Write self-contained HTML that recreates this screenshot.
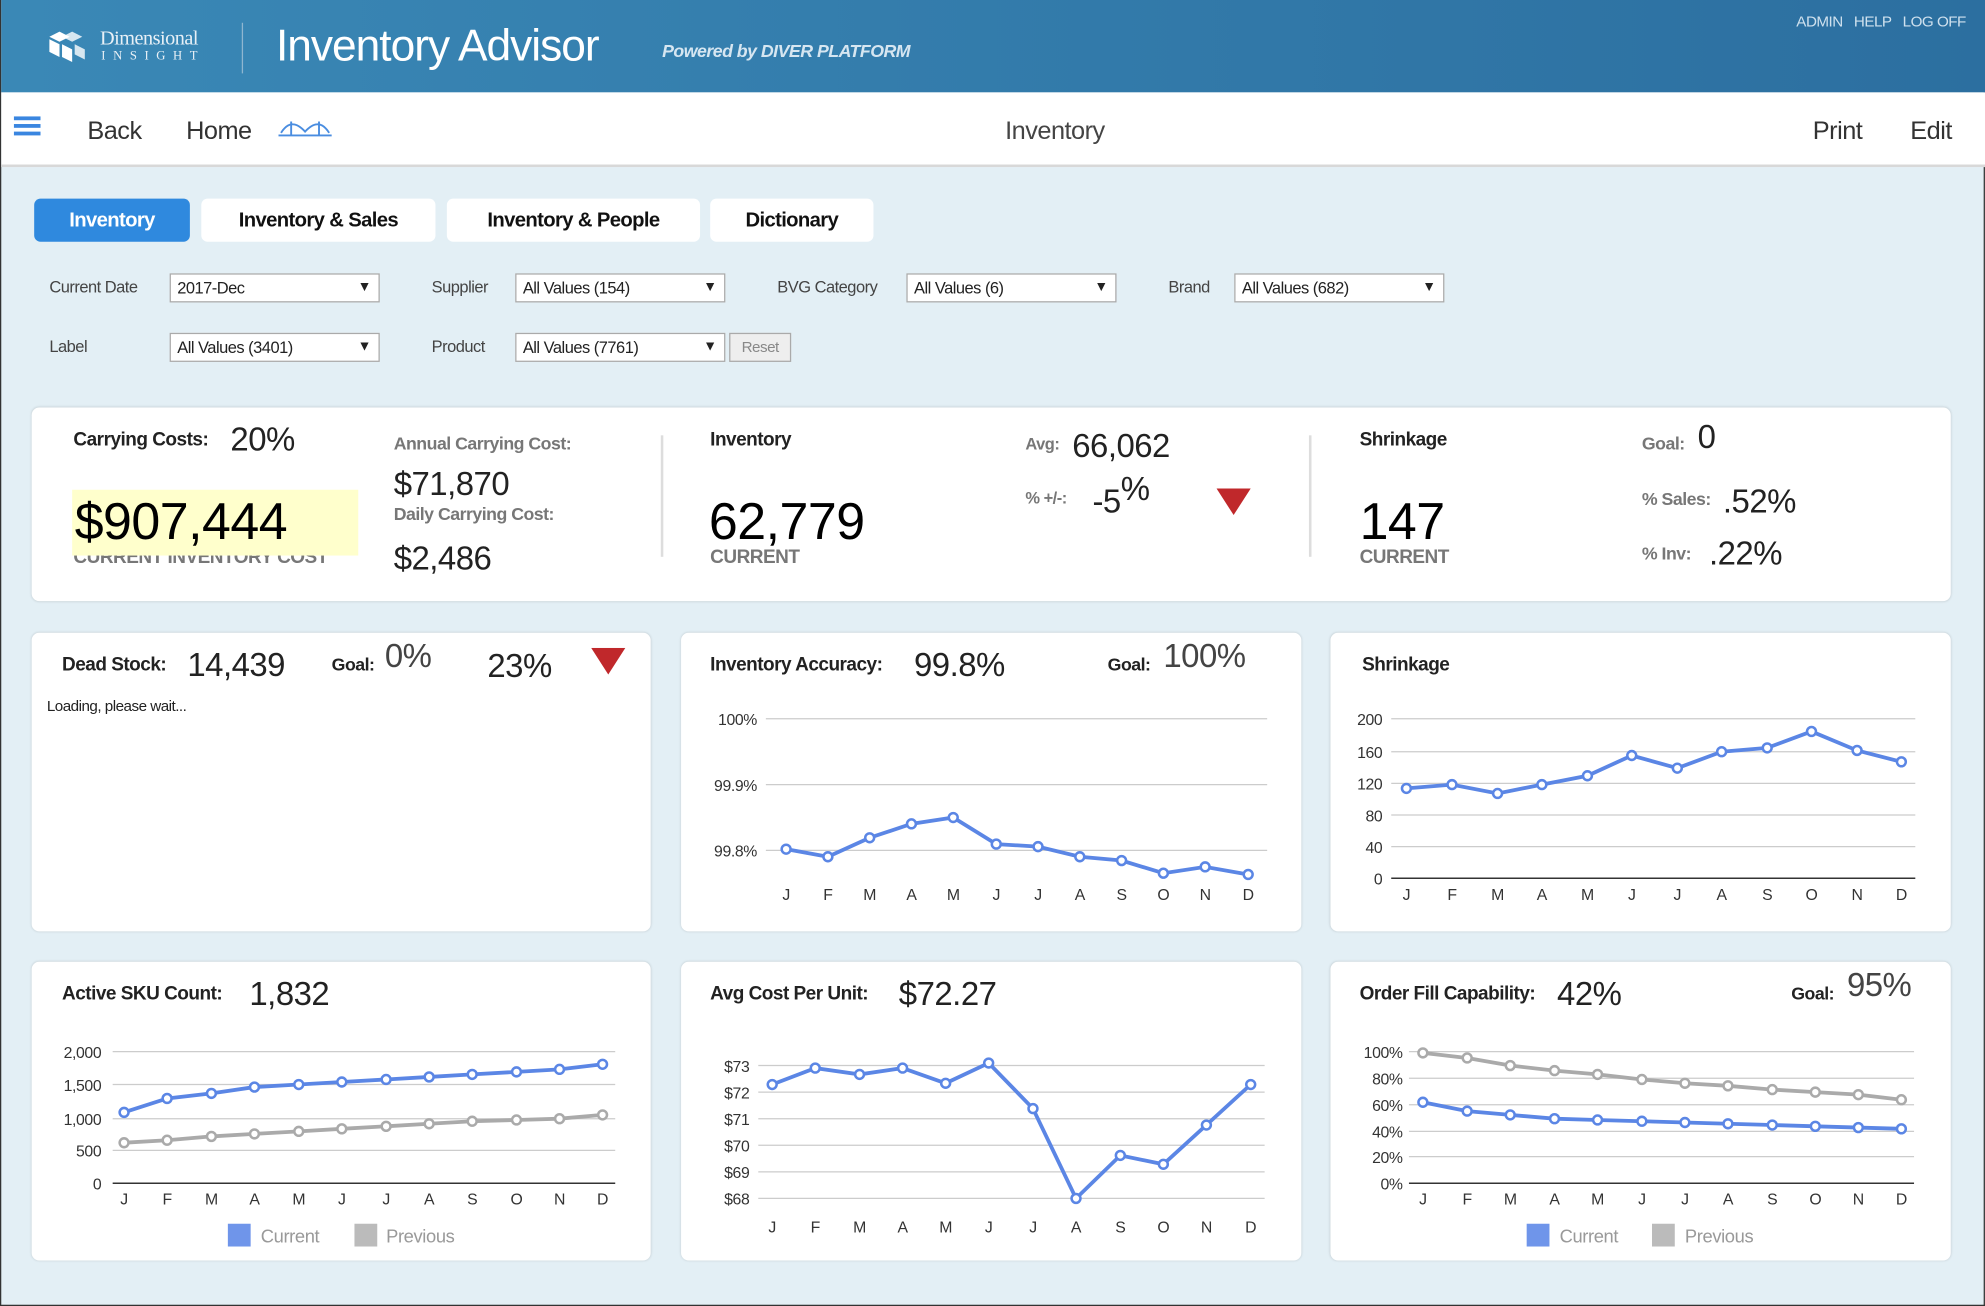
<!DOCTYPE html>
<html><head><meta charset="utf-8">
<style>
*{margin:0;padding:0;box-sizing:border-box}
html,body{width:1985px;height:1306px;overflow:hidden;background:#e3eff5}
#w{position:absolute;left:0;top:0;width:1568px;height:1032px;transform:scale(1.2659,1.2655);transform-origin:0 0;font-family:"Liberation Sans",sans-serif;color:#222;background:#e3eff5;border-left:1px solid #333;border-right:1px solid #333;border-bottom:1px solid #333;letter-spacing:-0.4px}
.a{position:absolute;white-space:nowrap}
.hdr{position:absolute;left:0;top:0;width:1568px;height:73px;background:linear-gradient(90deg,#3a88b6,#2c6fa0)}
.nav{position:absolute;left:0;top:73px;width:1568px;height:59px;background:#fff;border-bottom:2px solid #d8d8d8}
.card{position:absolute;background:#fff;border-radius:6px;box-shadow:0 0 2px rgba(0,0,0,.15)}
.tab{position:absolute;top:157px;height:34px;background:#fff;border-radius:5px;font:bold 16px "Liberation Sans",sans-serif;text-align:center;line-height:36px;color:#111;letter-spacing:-0.5px}
.sel{position:absolute;height:23px;background:#fff;border:1px solid #aaa;font-size:13px;line-height:21px;padding-left:5px;color:#222}
.sel:after{content:"▼";position:absolute;right:6px;top:0;font-size:11px}
.lb{font-size:13px;color:#444}
.b{font-weight:bold}
.g{color:#666}
svg text{font-family:"Liberation Sans",sans-serif;letter-spacing:-0.3px}
</style></head><body><div id="w">
<div class="hdr"></div>
<svg class="a" style="left:36px;top:23px" width="36" height="30"><g fill="#fff"><polygon points="10,2 18,6 10,10 2,6"/><polygon points="20,2 28,6 20,10 12,6" opacity=".8"/><polygon points="2,8 10,12 10,22 2,18"/><polygon points="12,12 20,16 20,26 12,22"/><polygon points="22,12 30,16 30,24 22,20" opacity=".8"/></g></svg>
<div class="a" style="left:78px;top:22px;color:#e8f0f6;font:16px 'Liberation Serif',serif">Dimensional</div>
<div class="a" style="left:79px;top:39px;color:#e8f0f6;font:10px 'Liberation Serif',serif;letter-spacing:6px">INSIGHT</div>
<div class="a" style="left:190px;top:18px;width:1px;height:40px;background:#8fb6d0"></div>
<div class="a" style="left:217px;top:17px;color:#fff;font-size:35px;letter-spacing:-0.8px">Inventory Advisor</div>
<div class="a" style="left:522px;top:32px;color:#d6e6f1;font:italic bold 14px 'Liberation Sans',sans-serif">Powered by DIVER PLATFORM</div>
<div class="a" style="left:1418px;top:10px;color:#cfe1ee;font-size:12px">ADMIN&nbsp;&nbsp; HELP&nbsp;&nbsp; LOG OFF</div>
<div class="nav"></div>
<div class="a" style="left:10px;top:92px;width:21px;height:3px;background:#3a86e0;box-shadow:0 6px 0 #3a86e0,0 12px 0 #3a86e0"></div>
<div class="a" style="left:68px;top:93px;font-size:20px;color:#333">Back</div>
<div class="a" style="left:146px;top:93px;font-size:20px;color:#333">Home</div>
<svg class="a" style="left:219px;top:94px" width="44" height="16"><g stroke="#4a8de0" fill="none" stroke-width="1.5"><line x1="0" y1="13" x2="42" y2="13"/><line x1="10" y1="2" x2="10" y2="13"/><line x1="32" y1="2" x2="32" y2="13"/><path d="M2 11 Q10 -2 21 10 Q32 -2 40 11"/></g></svg>
<div class="a" style="left:793px;top:93px;font-size:20px;color:#444">Inventory</div>
<div class="a" style="left:1431px;top:93px;font-size:20px;color:#333">Print</div>
<div class="a" style="left:1508px;top:93px;font-size:20px;color:#333">Edit</div>

<div class="tab" style="left:26px;width:123px;background:#2f89de;color:#fff">Inventory</div>
<div class="tab" style="left:158px;width:185px">Inventory &amp; Sales</div>
<div class="tab" style="left:352px;width:200px">Inventory &amp; People</div>
<div class="tab" style="left:560px;width:129px">Dictionary</div>

<div class="a lb" style="left:38px;top:219px">Current Date</div><div class="sel" style="left:133px;top:216px;width:166px">2017-Dec</div>
<div class="a lb" style="left:340px;top:219px">Supplier</div><div class="sel" style="left:406px;top:216px;width:166px">All Values (154)</div>
<div class="a lb" style="left:613px;top:219px">BVG Category</div><div class="sel" style="left:715px;top:216px;width:166px">All Values (6)</div>
<div class="a lb" style="left:922px;top:219px">Brand</div><div class="sel" style="left:974px;top:216px;width:166px">All Values (682)</div>
<div class="a lb" style="left:38px;top:266px">Label</div><div class="sel" style="left:133px;top:263px;width:166px">All Values (3401)</div>
<div class="a lb" style="left:340px;top:266px">Product</div><div class="sel" style="left:406px;top:263px;width:166px">All Values (7761)</div>
<div class="a" style="left:575px;top:263px;width:49px;height:23px;border:1px solid #aaa;background:#eee;font-size:12px;color:#888;text-align:center;line-height:21px">Reset</div>

<div class="card" style="left:24px;top:322px;width:1516px;height:153px"></div>
<div class="a b" style="left:57px;top:339px;font-size:15px">Carrying Costs:</div>
<div class="a" style="left:181px;top:332px;font-size:26px">20%</div>
<div class="a g b" style="left:57px;top:432px;font-size:15px;color:#777">CURRENT INVENTORY COST</div>
<div class="a" style="left:56px;top:387px;width:226px;height:52px;background:#ffffcc"></div>
<div class="a" style="left:58px;top:389px;font-size:41px;color:#000">$907,444</div>
<div class="a b" style="left:310px;top:342px;font-size:14px;color:#777">Annual Carrying Cost:</div>
<div class="a" style="left:310px;top:367px;font-size:26px">$71,870</div>
<div class="a b" style="left:310px;top:398px;font-size:14px;color:#777">Daily Carrying Cost:</div>
<div class="a" style="left:310px;top:426px;font-size:26px">$2,486</div>
<div class="a" style="left:521px;top:344px;width:2px;height:96px;background:#ddd"></div>
<div class="a b" style="left:560px;top:339px;font-size:15px">Inventory</div>
<div class="a" style="left:559px;top:389px;font-size:41px;color:#000">62,779</div>
<div class="a b" style="left:560px;top:432px;font-size:15px;color:#777">CURRENT</div>
<div class="a b" style="left:809px;top:343px;font-size:13px;color:#777">Avg:</div>
<div class="a" style="left:846px;top:337px;font-size:26px">66,062</div>
<div class="a b" style="left:809px;top:386px;font-size:13px;color:#777">% +/-:</div>
<div class="a" style="left:862px;top:381px;font-size:26px">-5<span style="position:relative;top:-10px">%</span></div>
<svg class="a" style="left:960px;top:386px" width="28" height="22"><polygon points="0,0 27,0 13.5,21" fill="#c0282b"/></svg>
<div class="a" style="left:1033px;top:344px;width:2px;height:96px;background:#ddd"></div>
<div class="a b" style="left:1073px;top:339px;font-size:15px">Shrinkage</div>
<div class="a" style="left:1073px;top:389px;font-size:41px;color:#000">147</div>
<div class="a b" style="left:1073px;top:432px;font-size:15px;color:#777">CURRENT</div>
<div class="a b" style="left:1296px;top:342px;font-size:14px;color:#777">Goal:</div>
<div class="a" style="left:1340px;top:330px;font-size:26px">0</div>
<div class="a b" style="left:1296px;top:386px;font-size:14px;color:#777">% Sales:</div>
<div class="a" style="left:1360px;top:381px;font-size:26px">.52%</div>
<div class="a b" style="left:1296px;top:429px;font-size:14px;color:#777">% Inv:</div>
<div class="a" style="left:1349px;top:422px;font-size:26px">.22%</div>

<div class="card" style="left:24px;top:500px;width:489px;height:236px"></div>
<div class="a b" style="left:48px;top:517px;font-size:15px">Dead Stock:</div>
<div class="a" style="left:147px;top:510px;font-size:26px">14,439</div>
<div class="a b" style="left:261px;top:517px;font-size:14px">Goal:</div>
<div class="a" style="left:303px;top:503px;font-size:26px;color:#444">0%</div>
<div class="a" style="left:384px;top:511px;font-size:26px">23%</div>
<svg class="a" style="left:466px;top:512px" width="28" height="22"><polygon points="0,0 27,0 13.5,21" fill="#c0282b"/></svg>
<div class="a" style="left:36px;top:551px;font-size:12px">Loading, please wait...</div>

<div class="card" style="left:537px;top:500px;width:490px;height:236px"></div>
<div class="a b" style="left:560px;top:517px;font-size:15px">Inventory Accuracy:</div>
<div class="a" style="left:721px;top:510px;font-size:26px">99.8%</div>
<div class="a b" style="left:874px;top:517px;font-size:14px">Goal:</div>
<div class="a" style="left:918px;top:503px;font-size:26px;color:#444">100%</div>

<div class="card" style="left:1050px;top:500px;width:490px;height:236px"></div>
<div class="a b" style="left:1075px;top:517px;font-size:15px">Shrinkage</div>

<div class="card" style="left:24px;top:760px;width:489px;height:236px"></div>
<div class="a b" style="left:48px;top:777px;font-size:15px">Active SKU Count:</div>
<div class="a" style="left:196px;top:770px;font-size:26px">1,832</div>

<div class="card" style="left:537px;top:760px;width:490px;height:236px"></div>
<div class="a b" style="left:560px;top:777px;font-size:15px">Avg Cost Per Unit:</div>
<div class="a" style="left:709px;top:770px;font-size:26px">$72.27</div>

<div class="card" style="left:1050px;top:760px;width:490px;height:236px"></div>
<div class="a b" style="left:1073px;top:777px;font-size:15px">Order Fill Capability:</div>
<div class="a" style="left:1229px;top:770px;font-size:26px">42%</div>
<div class="a b" style="left:1414px;top:777px;font-size:14px">Goal:</div>
<div class="a" style="left:1458px;top:763px;font-size:26px;color:#444">95%</div>

<svg class="a" style="left:0;top:0" width="1568" height="1032" font-size="12.5" fill="#222">
<g stroke="#ccc" stroke-width="1">
<line x1="604" y1="568" x2="1000" y2="568"/><line x1="604" y1="620" x2="1000" y2="620"/><line x1="604" y1="672" x2="1000" y2="672"/>
<line x1="1098" y1="568" x2="1512" y2="568"/><line x1="1098" y1="594" x2="1512" y2="594"/><line x1="1098" y1="619" x2="1512" y2="619"/><line x1="1098" y1="644" x2="1512" y2="644"/><line x1="1098" y1="669" x2="1512" y2="669"/>
<line x1="88" y1="831" x2="485" y2="831"/><line x1="88" y1="857" x2="485" y2="857"/><line x1="88" y1="884" x2="485" y2="884"/><line x1="88" y1="909" x2="485" y2="909"/>
<line x1="598" y1="842" x2="998" y2="842"/><line x1="598" y1="863" x2="998" y2="863"/><line x1="598" y1="884" x2="998" y2="884"/><line x1="598" y1="905" x2="998" y2="905"/><line x1="598" y1="926" x2="998" y2="926"/><line x1="598" y1="947" x2="998" y2="947"/>
<line x1="1112" y1="831" x2="1511" y2="831"/><line x1="1112" y1="852" x2="1511" y2="852"/><line x1="1112" y1="873" x2="1511" y2="873"/><line x1="1112" y1="894" x2="1511" y2="894"/><line x1="1112" y1="914" x2="1511" y2="914"/>
</g>
<g stroke="#333" stroke-width="1.2"><line x1="1098" y1="694" x2="1512" y2="694"/><line x1="88" y1="935" x2="485" y2="935"/><line x1="1112" y1="935" x2="1511" y2="935"/></g>
<g text-anchor="end" fill="#333">
<text x="597" y="573">100%</text><text x="597" y="625">99.9%</text><text x="597" y="677">99.8%</text>
<text x="1091" y="573">200</text><text x="1091" y="599">160</text><text x="1091" y="624">120</text><text x="1091" y="649">80</text><text x="1091" y="674">40</text><text x="1091" y="699">0</text>
<text x="79" y="836">2,000</text><text x="79" y="862">1,500</text><text x="79" y="889">1,000</text><text x="79" y="914">500</text><text x="79" y="940">0</text>
<text x="591" y="847">$73</text><text x="591" y="868">$72</text><text x="591" y="889">$71</text><text x="591" y="910">$70</text><text x="591" y="931">$69</text><text x="591" y="952">$68</text>
<text x="1107" y="836">100%</text><text x="1107" y="857">80%</text><text x="1107" y="878">60%</text><text x="1107" y="899">40%</text><text x="1107" y="919">20%</text><text x="1107" y="940">0%</text>
</g>
<g text-anchor="middle" fill="#333">
<text x="620" y="711">J</text><text x="653" y="711">F</text><text x="686" y="711">M</text><text x="719" y="711">A</text><text x="752" y="711">M</text><text x="786" y="711">J</text><text x="819" y="711">J</text><text x="852" y="711">A</text><text x="885" y="711">S</text><text x="918" y="711">O</text><text x="951" y="711">N</text><text x="985" y="711">D</text>
<text x="1110" y="711">J</text><text x="1146" y="711">F</text><text x="1182" y="711">M</text><text x="1217" y="711">A</text><text x="1253" y="711">M</text><text x="1288" y="711">J</text><text x="1324" y="711">J</text><text x="1359" y="711">A</text><text x="1395" y="711">S</text><text x="1430" y="711">O</text><text x="1466" y="711">N</text><text x="1501" y="711">D</text>
<text x="97" y="952">J</text><text x="131" y="952">F</text><text x="166" y="952">M</text><text x="200" y="952">A</text><text x="235" y="952">M</text><text x="269" y="952">J</text><text x="304" y="952">J</text><text x="338" y="952">A</text><text x="372" y="952">S</text><text x="407" y="952">O</text><text x="441" y="952">N</text><text x="475" y="952">D</text>
<text x="609" y="974">J</text><text x="643" y="974">F</text><text x="678" y="974">M</text><text x="712" y="974">A</text><text x="746" y="974">M</text><text x="780" y="974">J</text><text x="815" y="974">J</text><text x="849" y="974">A</text><text x="884" y="974">S</text><text x="918" y="974">O</text><text x="952" y="974">N</text><text x="987" y="974">D</text>
<text x="1123" y="952">J</text><text x="1158" y="952">F</text><text x="1192" y="952">M</text><text x="1227" y="952">A</text><text x="1261" y="952">M</text><text x="1296" y="952">J</text><text x="1330" y="952">J</text><text x="1364" y="952">A</text><text x="1399" y="952">S</text><text x="1433" y="952">O</text><text x="1467" y="952">N</text><text x="1501" y="952">D</text>
</g>
<g fill="none" stroke-width="3">
<polyline stroke="#5b86e5" points="620,671 653,677 686,662 719,651 752,646 786,667 819,669 852,677 885,680 918,690 951,685 985,691"/>
<polyline stroke="#5b86e5" points="1110,623 1146,620 1182,627 1217,620 1253,613 1288,597 1324,607 1359,594 1395,591 1430,578 1466,593 1501,602"/>
<polyline stroke="#aaa" points="97,903 131,901 166,898 200,896 235,894 269,892 304,890 338,888 372,886 407,885 441,884 475,881"/>
<polyline stroke="#5b86e5" points="97,879 131,868 166,864 200,859 235,857 269,855 304,853 338,851 372,849 407,847 441,845 475,841"/>
<polyline stroke="#5b86e5" points="609,857 643,844 678,849 712,844 746,856 780,840 815,876 849,947 884,913 918,920 952,889 987,857"/>
<polyline stroke="#aaa" points="1123,832 1158,836 1192,842 1227,846 1261,849 1296,853 1330,856 1364,858 1399,861 1433,863 1467,865 1501,869"/>
<polyline stroke="#5b86e5" points="1123,871 1158,878 1192,881 1227,884 1261,885 1296,886 1330,887 1364,888 1399,889 1433,890 1467,891 1501,892"/>
</g>
<g fill="#fff" stroke-width="2" stroke="#5b86e5">
<circle cx="620" cy="671" r="3.5"/><circle cx="653" cy="677" r="3.5"/><circle cx="686" cy="662" r="3.5"/><circle cx="719" cy="651" r="3.5"/><circle cx="752" cy="646" r="3.5"/><circle cx="786" cy="667" r="3.5"/><circle cx="819" cy="669" r="3.5"/><circle cx="852" cy="677" r="3.5"/><circle cx="885" cy="680" r="3.5"/><circle cx="918" cy="690" r="3.5"/><circle cx="951" cy="685" r="3.5"/><circle cx="985" cy="691" r="3.5"/>
<circle cx="1110" cy="623" r="3.5"/><circle cx="1146" cy="620" r="3.5"/><circle cx="1182" cy="627" r="3.5"/><circle cx="1217" cy="620" r="3.5"/><circle cx="1253" cy="613" r="3.5"/><circle cx="1288" cy="597" r="3.5"/><circle cx="1324" cy="607" r="3.5"/><circle cx="1359" cy="594" r="3.5"/><circle cx="1395" cy="591" r="3.5"/><circle cx="1430" cy="578" r="3.5"/><circle cx="1466" cy="593" r="3.5"/><circle cx="1501" cy="602" r="3.5"/>
<circle cx="97" cy="879" r="3.5"/><circle cx="131" cy="868" r="3.5"/><circle cx="166" cy="864" r="3.5"/><circle cx="200" cy="859" r="3.5"/><circle cx="235" cy="857" r="3.5"/><circle cx="269" cy="855" r="3.5"/><circle cx="304" cy="853" r="3.5"/><circle cx="338" cy="851" r="3.5"/><circle cx="372" cy="849" r="3.5"/><circle cx="407" cy="847" r="3.5"/><circle cx="441" cy="845" r="3.5"/><circle cx="475" cy="841" r="3.5"/>
<circle cx="609" cy="857" r="3.5"/><circle cx="643" cy="844" r="3.5"/><circle cx="678" cy="849" r="3.5"/><circle cx="712" cy="844" r="3.5"/><circle cx="746" cy="856" r="3.5"/><circle cx="780" cy="840" r="3.5"/><circle cx="815" cy="876" r="3.5"/><circle cx="849" cy="947" r="3.5"/><circle cx="884" cy="913" r="3.5"/><circle cx="918" cy="920" r="3.5"/><circle cx="952" cy="889" r="3.5"/><circle cx="987" cy="857" r="3.5"/>
<circle cx="1123" cy="871" r="3.5"/><circle cx="1158" cy="878" r="3.5"/><circle cx="1192" cy="881" r="3.5"/><circle cx="1227" cy="884" r="3.5"/><circle cx="1261" cy="885" r="3.5"/><circle cx="1296" cy="886" r="3.5"/><circle cx="1330" cy="887" r="3.5"/><circle cx="1364" cy="888" r="3.5"/><circle cx="1399" cy="889" r="3.5"/><circle cx="1433" cy="890" r="3.5"/><circle cx="1467" cy="891" r="3.5"/><circle cx="1501" cy="892" r="3.5"/>
</g>
<g fill="#fff" stroke-width="2" stroke="#aaa">
<circle cx="97" cy="903" r="3.5"/><circle cx="131" cy="901" r="3.5"/><circle cx="166" cy="898" r="3.5"/><circle cx="200" cy="896" r="3.5"/><circle cx="235" cy="894" r="3.5"/><circle cx="269" cy="892" r="3.5"/><circle cx="304" cy="890" r="3.5"/><circle cx="338" cy="888" r="3.5"/><circle cx="372" cy="886" r="3.5"/><circle cx="407" cy="885" r="3.5"/><circle cx="441" cy="884" r="3.5"/><circle cx="475" cy="881" r="3.5"/>
<circle cx="1123" cy="832" r="3.5"/><circle cx="1158" cy="836" r="3.5"/><circle cx="1192" cy="842" r="3.5"/><circle cx="1227" cy="846" r="3.5"/><circle cx="1261" cy="849" r="3.5"/><circle cx="1296" cy="853" r="3.5"/><circle cx="1330" cy="856" r="3.5"/><circle cx="1364" cy="858" r="3.5"/><circle cx="1399" cy="861" r="3.5"/><circle cx="1433" cy="863" r="3.5"/><circle cx="1467" cy="865" r="3.5"/><circle cx="1501" cy="869" r="3.5"/>
</g>
<g font-size="14.5" fill="#999">
<rect x="179" y="967" width="18" height="18" fill="#6f95ea"/><text x="205" y="982">Current</text>
<rect x="279" y="967" width="18" height="18" fill="#bbb"/><text x="304" y="982">Previous</text>
<rect x="1205" y="967" width="18" height="18" fill="#6f95ea"/><text x="1231" y="982">Current</text>
<rect x="1304" y="967" width="18" height="18" fill="#bbb"/><text x="1330" y="982">Previous</text>
</g>
</svg>
</div></body></html>
